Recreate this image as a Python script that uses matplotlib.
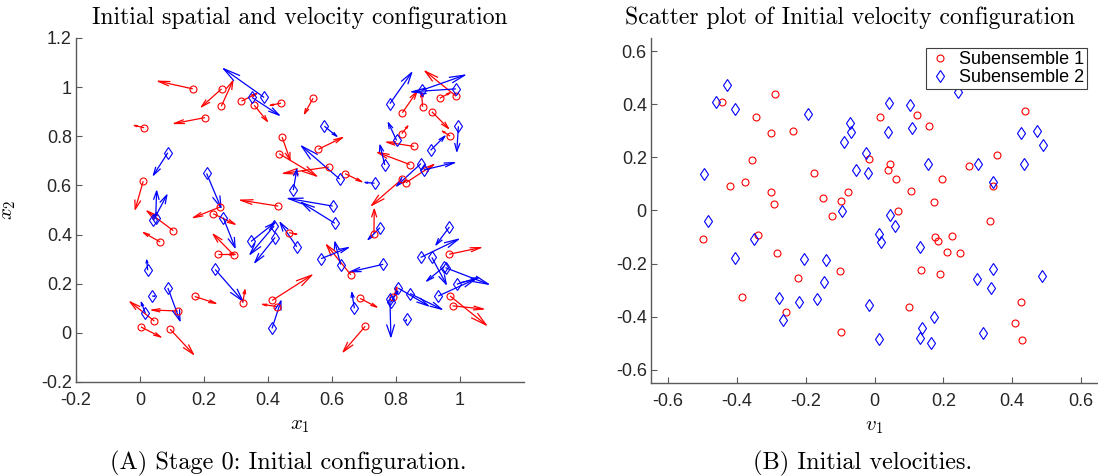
import numpy as np
import matplotlib
matplotlib.use("Agg")
import matplotlib.pyplot as plt
from matplotlib.collections import LineCollection
from matplotlib.ticker import FuncFormatter

plt.rcParams['font.family'] = 'Liberation Sans'
plt.rcParams['mathtext.fontset'] = 'cm'
plt.rcParams['axes.unicode_minus'] = False

# ---- left panel: positions and drawn arrow components ----
red_x = [0.165, 0.255, 0.254, 0.317, 0.357, 0.441, 0.203, 0.013, 0.444, 0.435,
         0.010, 0.432, 0.541, 0.557, 0.590, 0.641, 0.820, 0.883, 0.937, 0.988,
         0.912, 0.969, 0.818, 0.856, 0.843, 0.818, 0.831, 0.104, 0.063, 0.250,
         0.229, 0.243, 0.294, 0.466, 0.171, 0.321, 0.413, 0.427, 0.118, 0.045,
         0.094, 0.003, 0.731, 0.659, 0.966, 0.969, 0.977, 0.688, 0.792, 0.704]
red_y = [0.993, 0.993, 0.922, 0.943, 0.926, 0.935, 0.876, 0.835, 0.797, 0.729,
         0.617, 0.516, 0.955, 0.747, 0.675, 0.648, 0.896, 0.920, 0.955, 0.963,
         0.900, 0.801, 0.811, 0.759, 0.685, 0.625, 0.611, 0.416, 0.370, 0.512,
         0.485, 0.320, 0.316, 0.408, 0.148, 0.122, 0.132, 0.107, 0.089, 0.048,
         0.015, 0.024, 0.404, 0.236, 0.320, 0.150, 0.110, 0.140, 0.144, 0.027]
red_u = [-0.108, -0.063, 0.036, 0.048, 0.041, -0.034, -0.096, -0.031, 0.025, 0.117,
         -0.025, -0.118, -0.027, 0.076, -0.142, 0.052, 0.045, -0.003, 0.032, -0.097,
         0.052, -0.024, 0.019, -0.085, -0.100, -0.094, 0.087, -0.082, -0.052, -0.083,
         0.068, 0.054, -0.065, 0.024, 0.066, 0.007, 0.124, -0.044, -0.081, -0.076,
         0.073, 0.062, 0.001, -0.076, 0.099, 0.113, 0.096, 0.052, 0.011, -0.069]
red_v = [0.031, -0.073, 0.103, 0.031, -0.065, -0.009, -0.024, 0.009, -0.093, -0.091,
         -0.114, 0.024, -0.063, 0.048, -0.026, -0.033, 0.085, 0.057, 0.022, 0.102,
         -0.068, 0.020, 0.031, 0.017, 0.049, -0.106, 0.074, 0.080, 0.038, -0.043,
         -0.043, 0.000, 0.085, -0.007, -0.028, 0.053, 0.103, 0.009, 0.004, 0.078,
         -0.102, -0.041, 0.099, 0.122, 0.027, -0.118, -0.013, -0.035, 0.042, -0.104]

blue_x = [0.388, 0.350, 0.087, 0.208, 0.479, 0.781, 0.880, 0.987, 0.995, 0.802,
          0.908, 0.576, 0.765, 0.624, 0.733, 0.878, 0.887, 0.602, 0.049, 0.042,
          0.260, 0.024, 0.038, 0.087, 0.017, 0.235, 0.347, 0.419, 0.422, 0.490,
          0.4125, 0.609, 0.750, 0.566, 0.627, 0.760, 0.967, 0.877, 0.912, 0.951,
          0.955, 0.990, 0.932, 0.807, 0.844, 0.781, 0.833, 0.670, 0.784]
blue_y = [0.958, 0.958, 0.733, 0.649, 0.581, 0.933, 0.987, 0.993, 0.841, 0.783,
          0.743, 0.841, 0.683, 0.626, 0.609, 0.689, 0.663, 0.516, 0.469, 0.458,
          0.469, 0.255, 0.150, 0.183, 0.079, 0.258, 0.372, 0.435, 0.388, 0.350,
          0.018, 0.446, 0.428, 0.302, 0.278, 0.279, 0.431, 0.307, 0.307, 0.270,
          0.265, 0.198, 0.150, 0.182, 0.160, 0.137, 0.056, 0.100, 0.125]
blue_u = [-0.127, 0.085, -0.045, 0.045, 0.011, 0.068, 0.135, -0.138, -0.005, -0.026,
          0.045, 0.039, -0.015, -0.119, -0.030, -0.076, 0.096, -0.139, 0.003, 0.042,
          0.037, -0.003, 0.008, 0.038, -0.013, 0.086, 0.075, -0.075, -0.063, -0.052,
          0.028, -0.104, -0.037, 0.085, -0.018, -0.104, -0.042, 0.118, 0.045, -0.055,
          0.134, 0.068, 0.115, 0.094, 0.099, 0.003, -0.002, -0.008, 0.022]
blue_v = [0.117, -0.072, -0.091, -0.139, 0.084, 0.126, 0.062, -0.012, -0.102, 0.072,
          0.058, -0.041, 0.081, 0.134, 0.003, -0.091, 0.030, 0.031, 0.108, 0.103,
          -0.122, 0.041, -0.001, -0.134, 0.045, -0.128, 0.077, -0.115, -0.102, 0.099,
          0.112, 0.084, -0.048, 0.045, 0.092, -0.031, -0.073, 0.074, -0.109, -0.059,
          -0.067, 0.027, 0.068, -0.072, -0.064, -0.153, -0.008, 0.064, 0.045]

# ---- right panel: initial velocities ----
red_v1 = [-0.444, -0.288, -0.345, -0.300, -0.237, -0.357, -0.420, -0.378, -0.300, -0.292,
          -0.177, -0.150, -0.096, -0.078, -0.124, 0.016, 0.124, 0.159, 0.439, -0.016,
          0.044, 0.038, 0.063, 0.197, 0.106, 0.355, 0.274, 0.345, 0.172, 0.068,
          -0.500, -0.338, -0.285, -0.384, -0.222, -0.258, -0.100, -0.097, 0.336, 0.176,
          0.184, 0.224, 0.210, 0.250, 0.136, 0.190, 0.100, 0.426, 0.409, 0.429]
red_v2 = [0.408, 0.439, 0.353, 0.292, 0.299, 0.191, 0.094, 0.109, 0.070, 0.024,
          0.141, 0.048, 0.035, 0.070, -0.021, 0.353, 0.361, 0.318, 0.374, 0.195,
          0.175, 0.152, 0.117, 0.117, 0.074, 0.210, 0.167, 0.093, 0.033, -0.003,
          -0.108, -0.092, -0.162, -0.326, -0.255, -0.384, -0.228, -0.458, -0.039, -0.099,
          -0.116, -0.096, -0.155, -0.159, -0.224, -0.239, -0.364, -0.345, -0.423, -0.488]
blue_v1 = [-0.429, -0.462, -0.405, -0.193, -0.495, -0.088, -0.094, 0.244, 0.041, 0.104,
           -0.070, -0.067, 0.038, 0.110, 0.426, 0.474, 0.489, -0.025, -0.055, -0.018,
           0.157, 0.301, 0.435, 0.345, 0.044, -0.485, -0.349, -0.405, -0.204, -0.141,
           -0.147, -0.279, -0.220, -0.166, -0.267, 0.059, 0.012, 0.019, 0.131, 0.346,
           0.297, 0.340, 0.486, -0.016, 0.172, 0.137, 0.131, 0.164, 0.012, 0.316]
blue_v2 = [0.473, 0.409, 0.381, 0.365, 0.136, 0.257, 0.000, 0.446, 0.404, 0.396,
           0.331, 0.296, 0.296, 0.311, 0.292, 0.299, 0.245, 0.218, 0.152, 0.143,
           0.175, 0.175, 0.175, 0.108, -0.018, -0.039, -0.108, -0.179, -0.182, -0.186,
           -0.270, -0.330, -0.345, -0.333, -0.411, -0.058, -0.088, -0.119, -0.136, -0.221,
           -0.259, -0.291, -0.248, -0.357, -0.400, -0.442, -0.479, -0.501, -0.484, -0.462]

RED = (1, 0, 0)
BLUE = (0, 0, 1)
SPINE = '#5a5a5a'


def quiver_segments(x, y, u, v, alpha=0.33, beta=0.25):
    """MATLAB-style quiver: shaft plus open V head, built in data units."""
    x, y, u, v = (np.asarray(a, float) for a in (x, y, u, v))
    tx, ty = x + u, y + v
    h1x, h1y = tx - alpha * (u + beta * v), ty - alpha * (v - beta * u)
    h2x, h2y = tx - alpha * (u - beta * v), ty - alpha * (v + beta * u)
    segs = []
    for i in range(len(x)):
        segs.append([(x[i], y[i]), (tx[i], ty[i])])
        segs.append([(h1x[i], h1y[i]), (tx[i], ty[i]), (h2x[i], h2y[i])])
    return segs


def tick_fmt(val, pos):
    val = round(val, 2) + 0.0
    return f'{val:g}'


def style_axes(ax):
    for side in ('top', 'right'):
        ax.spines[side].set_visible(False)
    for side in ('left', 'bottom'):
        ax.spines[side].set_color(SPINE)
        ax.spines[side].set_linewidth(1.0)
    ax.tick_params(direction='in', length=4, width=0.8, color=SPINE,
                   labelsize=13, labelcolor='#262626')
    ax.tick_params(axis='x', pad=7)
    ax.tick_params(axis='y', pad=3)
    ax.xaxis.set_major_formatter(FuncFormatter(tick_fmt))
    ax.yaxis.set_major_formatter(FuncFormatter(tick_fmt))


fig = plt.figure(figsize=(10.98, 4.76), dpi=100)
ax1 = fig.add_axes([76 / 1098, 94 / 476, 448 / 1098, 344 / 476])
ax2 = fig.add_axes([651 / 1098, 93 / 476, 447 / 1098, 345 / 476])

# left: spatial configuration with velocity arrows
ax1.add_collection(LineCollection(quiver_segments(red_x, red_y, red_u, red_v),
                                  colors=[RED], linewidths=0.9))
ax1.add_collection(LineCollection(quiver_segments(blue_x, blue_y, blue_u, blue_v),
                                  colors=[BLUE], linewidths=0.9))
ax1.plot(red_x, red_y, 'o', ls='none', mfc='none', mec=RED, ms=5, mew=0.8)
ax1.plot(blue_x, blue_y, 'd', ls='none', mfc='none', mec=BLUE, ms=6.5, mew=0.8)
ax1.set_xlim(-0.2, 1.2)
ax1.set_ylim(-0.2, 1.2)
ax1.set_xticks(np.arange(-0.2, 1.01, 0.2))
ax1.set_yticks(np.arange(-0.2, 1.21, 0.2))
style_axes(ax1)
ax1.set_xlabel('$x_1$', fontsize=15)
ax1.xaxis.set_label_coords(0.5, -0.10)
ax1.set_ylabel('$x_2$', fontsize=15)
ax1.yaxis.set_label_coords(-0.13, 0.5)
ax1.text(0.5, 1.025, 'Initial spatial and velocity configuration', transform=ax1.transAxes,
         ha='center', va='bottom', fontsize=17, family='cmr10')

# right: velocities
ax2.plot(red_v1, red_v2, 'o', ls='none', mfc='none', mec=RED, ms=5, mew=0.8,
         label='Subensemble 1')
ax2.plot(blue_v1, blue_v2, 'd', ls='none', mfc='none', mec=BLUE, ms=6.5, mew=0.8,
         label='Subensemble 2')
ax2.set_xlim(-0.65, 0.65)
ax2.set_ylim(-0.65, 0.65)
ax2.set_xticks(np.arange(-0.6, 0.61, 0.2))
ax2.set_yticks(np.arange(-0.6, 0.61, 0.2))
style_axes(ax2)
ax2.set_xlabel('$v_1$', fontsize=15)
ax2.xaxis.set_label_coords(0.5, -0.10)
ax2.text(0.446, 1.025, 'Scatter plot of Initial velocity configuration',
         transform=ax2.transAxes, ha='center', va='bottom', fontsize=17, family='cmr10')
leg = ax2.legend(loc='upper right', bbox_to_anchor=(0.976, 0.970), borderaxespad=0,
                 fontsize=13, frameon=True, fancybox=False, framealpha=1,
                 handlelength=1.2, handletextpad=0.5, borderpad=0.15, labelspacing=0.05)
leg.get_frame().set_edgecolor('#404040')
leg.get_frame().set_linewidth(0.8)

# sub-captions
fig.text(288 / 1098, 1 - 463 / 476, '(A) Stage 0: Initial configuration.',
         ha='center', va='center', fontsize=17.5, family='cmr10')
fig.text(863 / 1098, 1 - 463 / 476, '(B) Initial velocities.',
         ha='center', va='center', fontsize=17.5, family='cmr10')

fig.savefig('out.png', dpi=100, facecolor='white')
